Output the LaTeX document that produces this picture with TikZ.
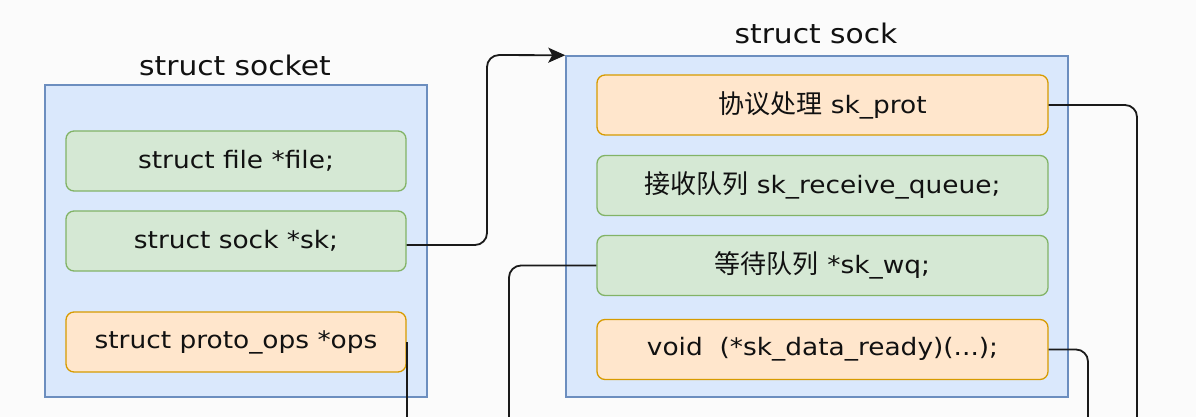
\documentclass[tikz,border=0pt]{standalone}
\usepackage{fontspec}
\setmainfont[FakeStretch=1.1]{DejaVu Sans}
\newfontfamily\cjk{Noto Sans CJK SC}
\newcommand{\zh}[1]{{\cjk\fontsize{26}{28}\selectfont #1}}
\usetikzlibrary{arrows.meta}
\definecolor{bgc}{HTML}{FBFBFB}
\definecolor{bluefill}{HTML}{DAE8FC}
\definecolor{bluedraw}{HTML}{6C8EBF}
\definecolor{greenfill}{HTML}{D5E8D4}
\definecolor{greendraw}{HTML}{82B366}
\definecolor{orangefill}{HTML}{FFE6CC}
\definecolor{orangedraw}{HTML}{D79B00}
\definecolor{txt}{HTML}{111111}
\definecolor{wire}{HTML}{1A1A1A}
\tikzset{
  outerbox/.style={draw=bluedraw, fill=bluefill, line width=1.5pt, inner sep=0pt},
  field/.style={rounded corners=8pt, line width=1.3pt, inner sep=0pt, minimum height=60pt,
    minimum width=#1, text=txt, font=\fontsize{24}{28}\selectfont},
  gfield/.style={field=#1, draw=greendraw, fill=greenfill},
  ofield/.style={field=#1, draw=orangedraw, fill=orangefill},
  title/.style={text=txt, font=\fontsize{27}{32}\selectfont, inner sep=0pt},
  wire/.style={draw=wire, line width=1.8pt, rounded corners=12pt}
}
\begin{document}
\begin{tikzpicture}[x=1pt,y=-1pt]
\useasboundingbox (0,0) rectangle (1196,417);
\fill[bgc] (0,0) rectangle (1196,417);

% struct socket
\node[outerbox, minimum width=382pt, minimum height=312pt] (socket) at (236,241) {};
\node[title] (tsocket) at (235,65) {struct socket};
\node[gfield=340pt] (file) at (236,161) {struct file *file;};
\node[gfield=340pt] (sk) at (236,241) {struct sock *sk;};
\node[ofield=340pt] (ops) at (236,342) {struct proto\_ops *ops};

% struct sock
\node[outerbox, minimum width=502pt, minimum height=341pt] (sock) at (817,226.5) {};
\node[title] (tsock) at (816,33) {struct sock};
\node[ofield=451pt] (prot) at (822.5,105) {\zh{协议处理} sk\_prot};
\node[gfield=451pt] (recv) at (822.5,185.5) {\zh{接收队列} sk\_receive\_queue;};
\node[gfield=451pt] (wq) at (822.5,265.5) {\zh{等待队列} *sk\_wq;};
\node[ofield=451pt] (ready) at (822.5,349.5) {void\ \ (*sk\_data\_ready)(...);};

% connector endpoints
\coordinate (j1) at (487,55);
\coordinate (b1) at (509,417);
\coordinate (b2) at (1137,417);
\coordinate (b3) at (1088,417);
\coordinate (bot) at (0,417);

\draw[wire, -{Stealth[length=17pt,width=15pt,inset=4pt]}] ([yshift=-4pt]sk.east) -| (j1) -- (sock.north west);
\draw[wire] (wq.west) -| (b1);
\draw[wire] (ops.east) -- (ops.east |- bot);
\draw[wire] (prot.east) -| (b2);
\draw[wire] (ready.east) -| (b3);
\end{tikzpicture}
\end{document}
